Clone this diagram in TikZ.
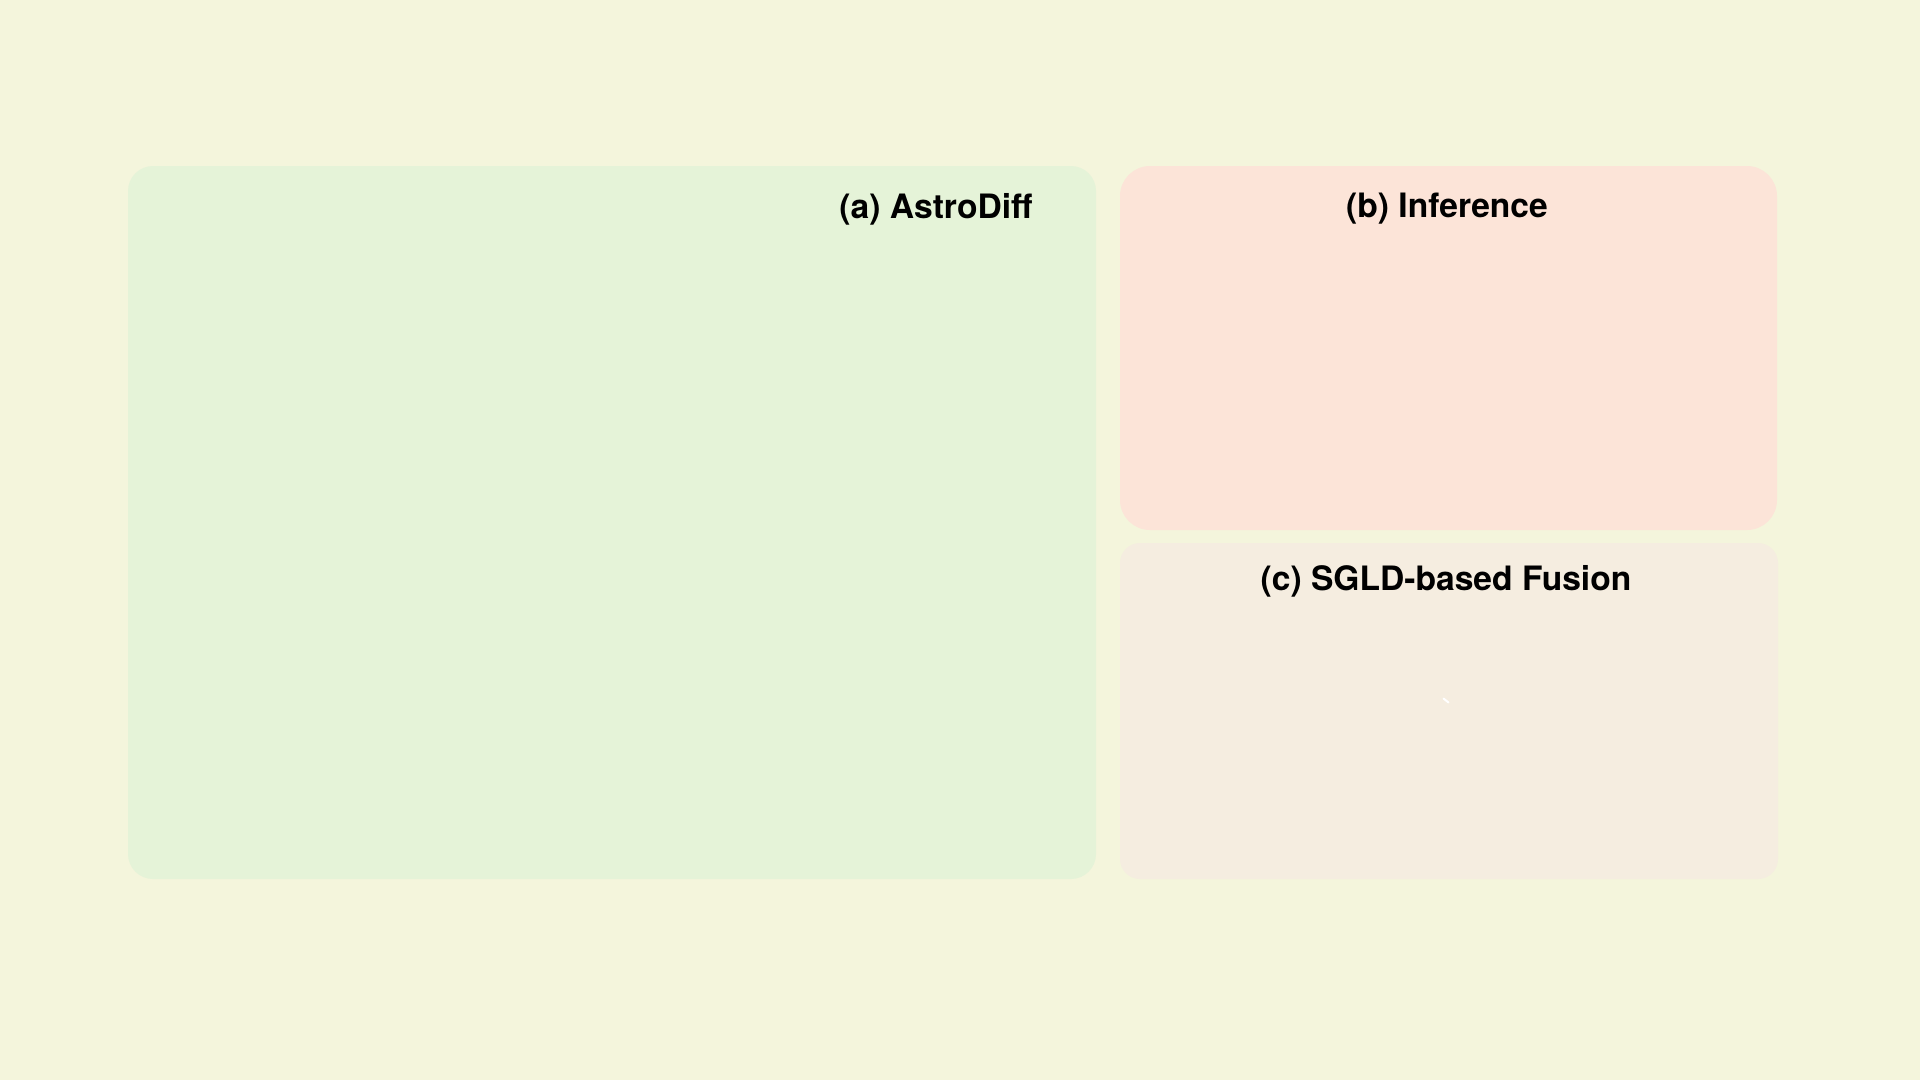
\documentclass[tikz,border=0pt]{standalone}
\usepackage{fontspec}
\setmainfont{TeX Gyre Heros}
\definecolor{bgc}{RGB}{244,245,220}
\definecolor{boxa}{RGB}{229,243,216}
\definecolor{boxb}{RGB}{252,228,216}
\definecolor{boxc}{RGB}{245,237,224}
\tikzset{
  panel/.style={draw=none, rounded corners=#1},
  paneltitle/.style={anchor=base, inner sep=0pt, font=\fontsize{33.6}{40}\selectfont\bfseries, text=black}
}
\begin{document}
\begin{tikzpicture}[x=1pt,y=-1pt]
\fill[bgc] (0,0) rectangle (1920,1080);
\useasboundingbox (0,0) rectangle (1920,1080);
\fill[boxa, panel=25pt] (128,166) rectangle (1096,879);
\fill[boxb, panel=30pt] (1120,166) rectangle (1777,530);
\fill[boxc, panel=20pt] (1120,543) rectangle (1778,879);
\node[paneltitle] (ta) at (936,218.5) {(a) AstroDiff};
\node[paneltitle] (tb) at (1447,217.5) {(b) Inference};
\node[paneltitle] (tc) at (1446,590.5) {(c) SGLD-based Fusion};
\draw[white, line width=2pt, line cap=round] (1443.5,698.5) -- (1448.5,702.5);
\end{tikzpicture}
\end{document}
